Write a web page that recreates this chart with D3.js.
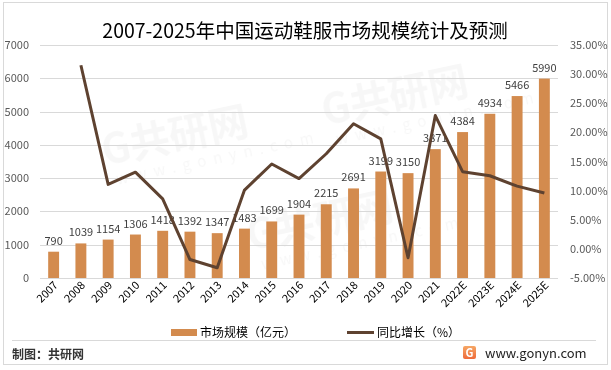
<!DOCTYPE html>
<html>
<head>
<meta charset="utf-8">
<script src="https://cdn.jsdelivr.net/npm/d3@7"></script>
<style>
  body { margin: 0; background: #fff; }
  svg { display: block; font-family: "Noto Sans CJK SC", "Noto Sans", sans-serif; }
</style>
</head>
<body>
<svg width="611" height="370"></svg>
<script>
// data
const years = ["2007", "2008", "2009", "2010", "2011", "2012", "2013", "2014", "2015", "2016",
  "2017", "2018", "2019", "2020", "2021", "2022E", "2023E", "2024E", "2025E"];
const marketSize = [790, 1039, 1154, 1306, 1418, 1392, 1347, 1483, 1699, 1904,
  2215, 2691, 3199, 3150, 3871, 4384, 4934, 5466, 5990];
// growth in %, first year has none
const growth = [null, 31.52, 11.07, 13.17, 8.58, -1.83, -3.23, 10.10, 14.57, 12.07,
  16.33, 21.49, 18.88, -1.53, 22.89, 13.25, 12.55, 10.78, 9.59];
const leftTicks = [0, 1000, 2000, 3000, 4000, 5000, 6000, 7000];
const rightTicks = [-5, 0, 5, 10, 15, 20, 25, 30, 35];

const barColor = "#d38b4e",
  lineColor = "#5e4230";

var svg = d3.select("svg"),
  plotLeft = 40,
  plotRight = 558,
  plotTop = 45,
  plotBottom = 278;

// faint watermarks behind the chart
var marks = [[105, 165], [325, 125], [250, 250]];
var wm = svg.append("g").attr("fill", "#000").attr("opacity", 0.035);
marks.forEach(function (p) {
  var g = wm.append("g").attr("transform", "translate(" + p[0] + "," + p[1] + ")rotate(-12)");
  g.append("text").attr("font-size", "40px").attr("font-weight", "bold").text("G共研网");
  g.append("text").attr("y", 22).attr("x", 8).attr("font-size", "15px")
    .attr("letter-spacing", "7px").text("www.gonyn.com");
});

// outer frame
svg.append("rect")
  .attr("x", 3.5).attr("y", 2.5)
  .attr("width", 604).attr("height", 362)
  .attr("fill", "none").attr("stroke", "#d9d9d9");

svg.append("text")
  .attr("x", 305).attr("y", 38)
  .attr("text-anchor", "middle")
  .attr("font-size", "19.5px")
  .attr("fill", "#000")
  .text("2007-2025年中国运动鞋服市场规模统计及预测");

var x = d3.scaleBand().domain(years).range([plotLeft, plotRight]).paddingInner(0.6).paddingOuter(0.3);
var y = d3.scaleLinear().domain([0, 7000]).range([plotBottom, plotTop]);
var y2 = d3.scaleLinear().domain([-5, 35]).range([plotBottom, plotTop]);

// gridlines
svg.append("g")
  .selectAll("line")
  .data(leftTicks)
  .enter()
  .append("line")
  .attr("x1", plotLeft).attr("x2", plotRight)
  .attr("y1", function (d) { return Math.round(y(d)) + 0.5; })
  .attr("y2", function (d) { return Math.round(y(d)) + 0.5; })
  .attr("stroke", "#d9d9d9");

// left axis labels
svg.append("g")
  .selectAll("text")
  .data(leftTicks)
  .enter()
  .append("text")
  .attr("x", 29).attr("y", function (d) { return y(d) + 4; })
  .attr("text-anchor", "end")
  .attr("font-size", "11px")
  .attr("fill", "#595959")
  .text(function (d) { return d; });

// right axis labels
svg.append("g")
  .selectAll("text")
  .data(rightTicks)
  .enter()
  .append("text")
  .attr("x", 570).attr("y", function (d) { return y2(d) + 4; })
  .attr("font-size", "11px")
  .attr("fill", "#595959")
  .text(function (d) { return d.toFixed(2) + "%"; });

// bars
svg.append("g")
  .selectAll("rect")
  .data(marketSize)
  .enter()
  .append("rect")
  .attr("x", function (d, i) { return x(years[i]); })
  .attr("width", x.bandwidth())
  .attr("y", function (d) { return y(d); })
  .attr("height", function (d) { return plotBottom - y(d); })
  .attr("fill", barColor);

// bar labels
svg.append("g")
  .selectAll("text")
  .data(marketSize)
  .enter()
  .append("text")
  .attr("x", function (d, i) { return x(years[i]) + x.bandwidth() / 2; })
  .attr("y", function (d) { return y(d) - 7; })
  .attr("text-anchor", "middle")
  .attr("font-size", "11px")
  .attr("fill", "#404040")
  .text(function (d) { return d; });

// x labels rotated
svg.append("g")
  .selectAll("text")
  .data(years)
  .enter()
  .append("text")
  .attr("transform", function (d) {
    return "translate(" + (x(d) + x.bandwidth() / 2 + 5) + "," + (plotBottom + 8) + ")rotate(-45)";
  })
  .attr("text-anchor", "end")
  .attr("font-size", "11px")
  .attr("fill", "#000")
  .text(function (d) { return d; });

// growth line
var line = d3.line()
  .defined(function (d) { return d != null; })
  .x(function (d, i) { return x(years[i]) + x.bandwidth() / 2; })
  .y(function (d) { return y2(d); });

svg.append("path")
  .datum(growth)
  .attr("d", line)
  .attr("fill", "none")
  .attr("stroke", lineColor)
  .attr("stroke-width", 3)
  .attr("stroke-linejoin", "round");

// legend
svg.append("rect")
  .attr("x", 171).attr("y", 329)
  .attr("width", 26).attr("height", 7)
  .attr("fill", barColor);
svg.append("text")
  .attr("x", 200).attr("y", 337)
  .attr("font-size", "12px")
  .text("市场规模（亿元）");

svg.append("line")
  .attr("x1", 347).attr("x2", 374)
  .attr("y1", 332.5).attr("y2", 332.5)
  .attr("stroke", lineColor).attr("stroke-width", 3);
svg.append("text")
  .attr("x", 377).attr("y", 337)
  .attr("font-size", "12px")
  .text("同比增长（%）");

// footer
svg.append("line")
  .attr("x1", 12).attr("x2", 596)
  .attr("y1", 340.5).attr("y2", 340.5)
  .attr("stroke", "#d9d9d9");
svg.append("text")
  .attr("x", 12).attr("y", 359)
  .attr("font-size", "12px")
  .attr("font-weight", "bold")
  .attr("fill", "#333")
  .text("制图：共研网");

var grad = svg.append("defs").append("linearGradient")
  .attr("id", "logo").attr("x1", 0).attr("y1", 0).attr("x2", 0).attr("y2", 1);
grad.append("stop").attr("offset", "0").attr("stop-color", "#f6a765");
grad.append("stop").attr("offset", "1").attr("stop-color", "#ee6a3a");
svg.append("rect")
  .attr("x", 463).attr("y", 346)
  .attr("width", 13).attr("height", 13).attr("rx", 2)
  .attr("fill", "url(#logo)");
svg.append("text")
  .attr("x", 469.5).attr("y", 357)
  .attr("text-anchor", "middle")
  .attr("font-size", "11px").attr("font-weight", "bold")
  .attr("fill", "#fff")
  .text("G");
svg.append("text")
  .attr("x", 485).attr("y", 358)
  .attr("font-size", "13px")
  .attr("fill", "#222")
  .text("www.gonyn.com");
</script>
</body>
</html>
